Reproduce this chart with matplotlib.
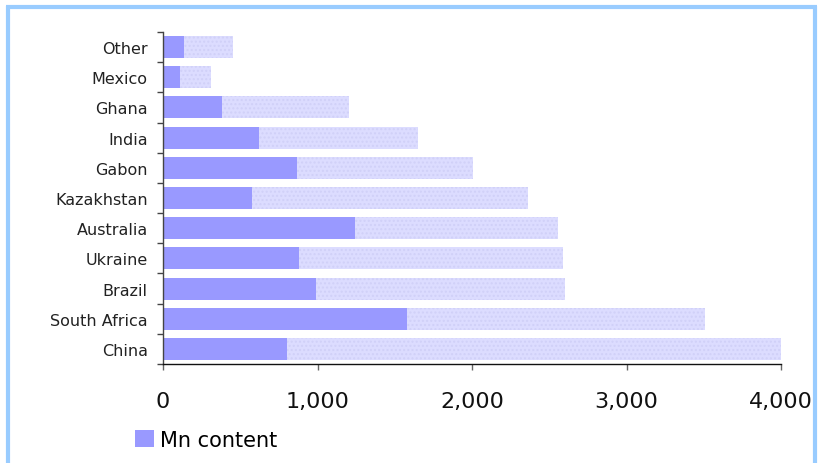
import matplotlib
matplotlib.use("Agg")
import matplotlib.pyplot as plt
from matplotlib.lines import Line2D
from matplotlib.patches import Patch
import numpy as np

countries = ["China", "South Africa", "Brazil", "Ukraine", "Australia", "Kazakhstan",
             "Gabon", "India", "Ghana", "Mexico", "Other"]
mn_content = [803, 1580, 991, 881, 1243, 576, 868, 622, 382, 110, 136]
total = [4000, 3510, 2603, 2591, 2558, 2364, 2008, 1651, 1205, 311, 453]
xticks = [0, 1000, 2000, 3000, 4000]

remainder = [t - m for t, m in zip(total, mn_content)]

fig = plt.figure(figsize=(8.18, 4.64), dpi=100)
ax = fig.add_axes([0.1993, 0.2134, 0.7555, 0.7155])

y = np.arange(len(countries))
mn_color = "#9999FF"
light_color = "#DCDCFF"

ax.barh(y, mn_content, height=0.73, color=mn_color, linewidth=0, label="Mn content")
ax.barh(y, remainder, left=mn_content, height=0.73, color=light_color,
        edgecolor="#D0D0F8", hatch="....", linewidth=0)

ax.set_xlim(0, 4000)
ax.set_ylim(-0.5, len(countries) - 0.5)
ax.set_xticks(xticks)
ax.set_xticklabels([f"{v:,}" for v in xticks], fontsize=16, color="#111111")
ax.set_yticks(y)
ax.set_yticklabels(countries, fontsize=11.5, color="#222222")
ax.set_yticks(np.arange(len(countries) + 1) - 0.5, minor=True)

ax.tick_params(axis="y", which="major", length=0, pad=11)
ax.tick_params(axis="y", which="minor", length=4.5, width=1, color="#444444", direction="out")
ax.tick_params(axis="x", which="major", length=4.5, width=1, color="#666666", direction="out", pad=15)

for s in ["top", "right"]:
    ax.spines[s].set_visible(False)
ax.spines["left"].set_color("#444444")
ax.spines["bottom"].set_color("#111111")
ax.spines["left"].set_linewidth(1)
ax.spines["bottom"].set_linewidth(1)

leg = fig.legend(handles=[Patch(facecolor=mn_color, edgecolor="none", label="Mn content")],
                 loc="center left", bbox_to_anchor=(0.165, 0.05), frameon=False,
                 fontsize=15, handlelength=0.9, handleheight=0.9, handletextpad=0.3,
                 borderaxespad=0, borderpad=0)

# light blue frame (top, left, right)
bc = "#99CCFF"
kw = dict(transform=fig.transFigure, color=bc, lw=3, solid_capstyle="butt")
fig.add_artist(Line2D([0.0075, 0.9985], [0.982, 0.982], **kw))
fig.add_artist(Line2D([0.0095, 0.0095], [0.0, 0.985], **kw))
fig.add_artist(Line2D([0.9965, 0.9965], [0.0, 0.985], **kw))

fig.savefig("out.png", dpi=100)
